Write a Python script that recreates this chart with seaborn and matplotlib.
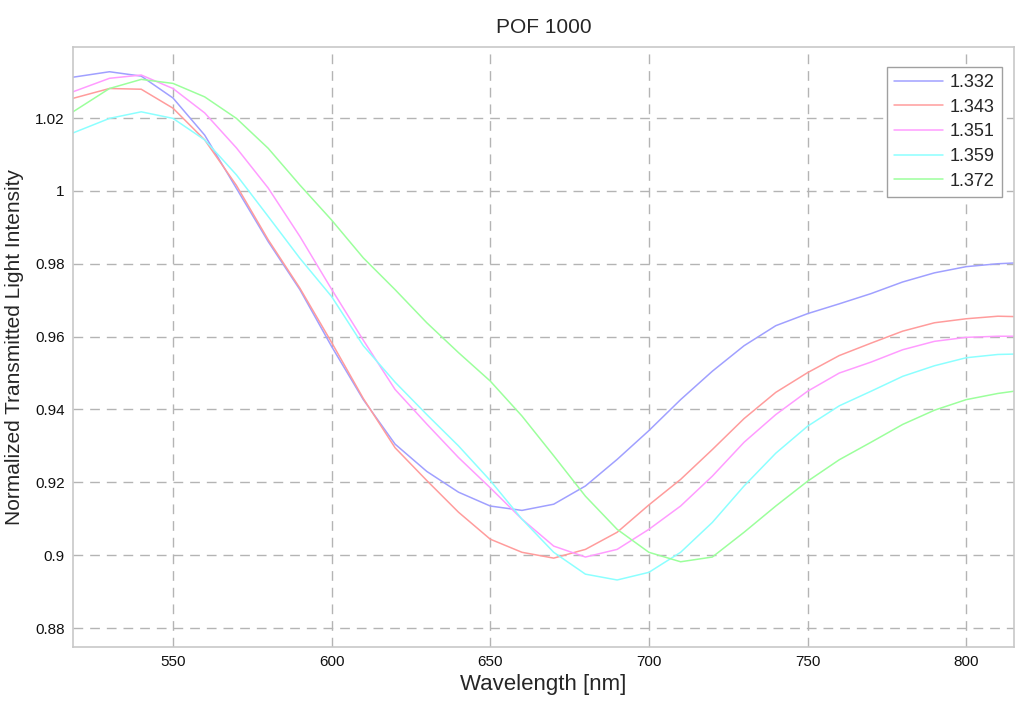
"""POF 1000: normalized transmitted light intensity vs wavelength for five refractive indices."""

import matplotlib

matplotlib.use("Agg")
import matplotlib.pyplot as plt  # noqa: E402
import pandas as pd  # noqa: E402
import seaborn as sns  # noqa: E402

WAVELENGTH = [518.5, 530, 540, 550, 560, 570, 580, 590, 600, 610, 620, 630, 640, 650,
              660, 670, 680, 690, 700, 710, 720, 730, 740, 750, 760, 770, 780, 790,
              800, 810, 815]

RI_1332 = [1.0312, 1.0327, 1.0315, 1.0255, 1.0153, 1.0007, 0.9861, 0.9729, 0.9573, 0.9427,
           0.9305, 0.9230, 0.9173, 0.9135, 0.9123, 0.9140, 0.9190, 0.9263, 0.9342, 0.9427,
           0.9505, 0.9575, 0.9630, 0.9663, 0.9690, 0.9718, 0.9750, 0.9775, 0.9792, 0.9800,
           0.9802]
RI_1343 = [1.0254, 1.0281, 1.0279, 1.0227, 1.0140, 1.0015, 0.9866, 0.9733, 0.9584, 0.9430,
           0.9295, 0.9205, 0.9118, 0.9044, 0.9008, 0.8992, 0.9016, 0.9063, 0.9138, 0.9208,
           0.9290, 0.9375, 0.9447, 0.9501, 0.9548, 0.9582, 0.9615, 0.9638, 0.9649, 0.9656,
           0.9655]
RI_1351 = [1.0272, 1.0309, 1.0318, 1.0281, 1.0214, 1.0118, 1.0008, 0.9875, 0.9730, 0.9590,
           0.9455, 0.9360, 0.9268, 0.9185, 0.9099, 0.9025, 0.8995, 0.9016, 0.9071, 0.9135,
           0.9217, 0.9310, 0.9386, 0.9450, 0.9500, 0.9530, 0.9564, 0.9587, 0.9598, 0.9601,
           0.9601]
RI_1359 = [1.0159, 1.0199, 1.0217, 1.0199, 1.0140, 1.0044, 0.9930, 0.9815, 0.9710, 0.9575,
           0.9475, 0.9386, 0.9300, 0.9205, 0.9099, 0.9008, 0.8948, 0.8932, 0.8953, 0.9008,
           0.9090, 0.9190, 0.9280, 0.9354, 0.9410, 0.9450, 0.9491, 0.9520, 0.9542, 0.9551,
           0.9552]
RI_1372 = [1.0217, 1.0281, 1.0306, 1.0295, 1.0258, 1.0199, 1.0117, 1.0016, 0.9920, 0.9816,
           0.9729, 0.9638, 0.9556, 0.9478, 0.9382, 0.9273, 0.9162, 0.9071, 0.9008, 0.8982,
           0.8995, 0.9063, 0.9135, 0.9203, 0.9262, 0.9310, 0.9359, 0.9398, 0.9427, 0.9444,
           0.9450]

SERIES_LABELS = ["1.332", "1.343", "1.351", "1.359", "1.372"]
X_TICKS = [550, 600, 650, 700, 750, 800]
Y_TICKS = [0.88, 0.90, 0.92, 0.94, 0.96, 0.98, 1.00, 1.02]

PALETTE = ["#a0a0ff", "#ff9c9c", "#ff9cff", "#8cffff", "#9cff9c"]


def build_frame() -> pd.DataFrame:
    frames = []
    for label, values in zip(SERIES_LABELS, [RI_1332, RI_1343, RI_1351, RI_1359, RI_1372]):
        frames.append(pd.DataFrame({"wavelength": WAVELENGTH, "intensity": values, "ri": label}))
    return pd.concat(frames, ignore_index=True)


def main() -> None:
    sns.set_style("white")
    plt.rcParams["font.family"] = ["Liberation Sans", "DejaVu Sans"]

    df = build_frame()
    fig = plt.figure(figsize=(10.24, 7.01), dpi=100)
    ax = fig.add_axes([0.0713, 0.077, 0.9187, 0.856])

    sns.lineplot(data=df, x="wavelength", y="intensity", hue="ri",
                 hue_order=SERIES_LABELS, palette=PALETTE, linewidth=1.1, ax=ax)

    ax.set_xlim(518.5, 815)
    ax.set_ylim(0.8748, 1.0395)
    ax.set_xticks(X_TICKS)
    ax.set_yticks(Y_TICKS)
    ax.set_yticklabels([f"{v:g}" for v in Y_TICKS])
    ax.tick_params(length=0, labelsize=11, pad=6, colors="#111111")

    ax.grid(True, color="#b4b4b4", linestyle=(0, (7, 5)), linewidth=1.0)
    for spine in ax.spines.values():
        spine.set_color("#c8c8c8")
        spine.set_linewidth(1.2)

    ax.set_title("POF 1000", fontsize=15, pad=10)
    ax.set_xlabel("Wavelength [nm]", fontsize=16, labelpad=3)
    ax.set_ylabel("Normalized Transmitted Light Intensity", fontsize=15, labelpad=8)

    leg = ax.legend(loc="upper right", bbox_to_anchor=(0.987, 0.9667), borderaxespad=0,
                    fontsize=13, frameon=True, fancybox=False, handlelength=2.7,
                    borderpad=0.4, labelspacing=0.42, handletextpad=0.35)
    leg.get_frame().set_edgecolor("#a0a0a0")
    leg.get_frame().set_linewidth(1.0)
    leg.get_frame().set_alpha(1.0)

    fig.savefig("out.png", dpi=100)
    plt.close(fig)


if __name__ == "__main__":
    main()
